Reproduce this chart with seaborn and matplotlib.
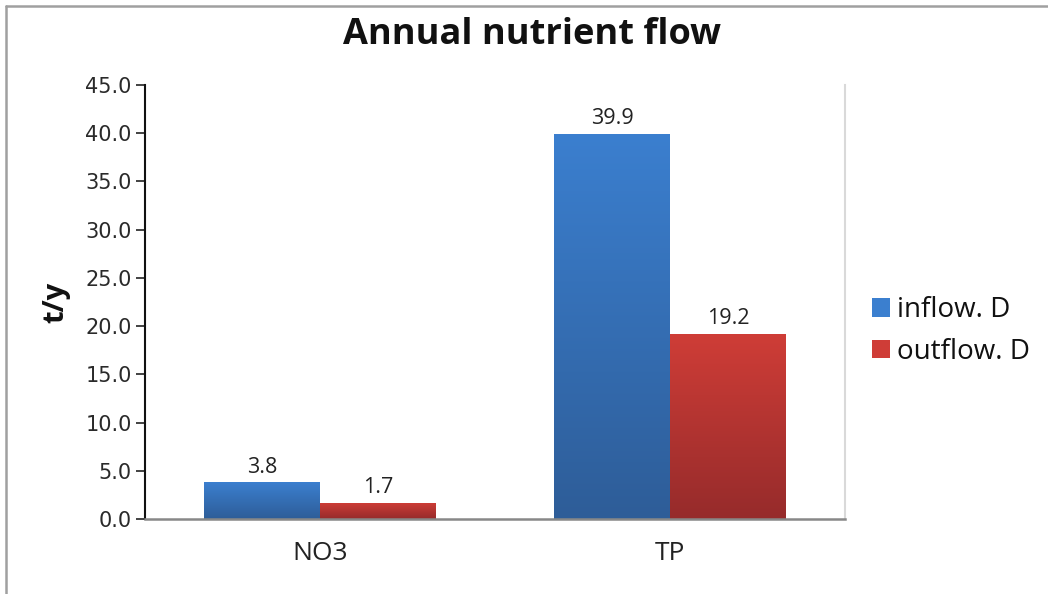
import numpy as np
import pandas as pd
import matplotlib
matplotlib.use("Agg")
import matplotlib.pyplot as plt
from matplotlib.colors import LinearSegmentedColormap
from matplotlib.lines import Line2D
from matplotlib.patches import Patch
import seaborn as sns

# Data
categories = ["NO3", "TP"]
series = ["inflow. D", "outflow. D"]
inflow = [3.8, 39.9]
outflow = [1.7, 19.2]
yticks = [0, 5, 10, 15, 20, 25, 30, 35, 40, 45]

df = pd.DataFrame({
    "nutrient": categories * 2,
    "series": [series[0]] * 2 + [series[1]] * 2,
    "value": inflow + outflow,
})

# Gradient colours (top, bottom) per series
grad = {
    series[0]: ("#3b7fcf", "#2e5d98"),
    series[1]: ("#cf3d37", "#962b2b"),
}

sns.set_theme(style="white")
plt.rcParams["font.family"] = ["Open Sans", "DejaVu Sans"]

fig = plt.figure(figsize=(10.48, 5.94), dpi=100)
ax = fig.add_axes([145 / 1048, 1 - 519 / 594, (845 - 145) / 1048, (519 - 85) / 594])

sns.barplot(data=df, x="nutrient", y="value", hue="series",
            palette=[grad[s][0] for s in series], width=0.662,
            dodge=True, ax=ax, legend=False, saturation=1, linewidth=0)

# Gradient fill clipped to each bar, with value labels
for container, s in zip(ax.containers, series):
    top, bottom = grad[s]
    cmap = LinearSegmentedColormap.from_list(s, [bottom, top])
    for bar in container:
        x0, y0 = bar.get_x(), bar.get_y()
        w, h = bar.get_width(), bar.get_height()
        img = ax.imshow(np.linspace(0, 1, 256).reshape(-1, 1), cmap=cmap,
                        origin="lower", aspect="auto",
                        extent=[x0, x0 + w, y0, y0 + h], zorder=bar.get_zorder() + 0.1)
        img.set_clip_path(bar)
        ax.text(x0 + w / 2, y0 + h + 0.5, f"{h:.1f}", ha="center", va="bottom",
                fontsize=15.5, color="#222222")

ax.set_ylim(0, 45)
ax.set_xlim(-0.5, 1.5)
ax.set_yticks(yticks)
ax.set_yticklabels([f"{v:.1f}" for v in yticks], family="DejaVu Sans", fontsize=15, color="#2a2a2a")
ax.tick_params(axis="y", which="major", direction="out", length=6.5, width=1.2, color="#222222", pad=3, left=True)
ax.tick_params(axis="x", length=0, labelsize=19, pad=16, labelcolor="#222222")
ax.set_xlabel("")
ax.set_ylabel("t/y", fontsize=21, fontweight="bold", color="#111111")
ax.yaxis.set_label_coords((70 - 145) / 700, 0.5)

ax.spines["top"].set_visible(False)
ax.spines["left"].set_color("#111111")
ax.spines["left"].set_linewidth(1.5)
ax.spines["bottom"].set_color("#888888")
ax.spines["bottom"].set_linewidth(1.8)
ax.spines["right"].set_color("#d9d9d9")
ax.spines["right"].set_linewidth(1.5)

fig.text(532 / 1048, 1 - 35 / 594, "Annual nutrient flow", ha="center", va="center",
         fontsize=26, fontweight="bold", color="#111111")

handles = [Patch(facecolor=grad[s][0], edgecolor="none") for s in series]
leg = fig.legend(handles, series, loc="center left", bbox_to_anchor=(872 / 1048, 1 - 331 / 594),
                 frameon=False, fontsize=20, handlelength=0.65, handleheight=0.65,
                 handletextpad=0.25, labelspacing=0.5, borderaxespad=0, borderpad=0)
for t in leg.get_texts():
    t.set_color("#111111")

# Outer chart frame
fig.add_artist(Line2D([6 / 1048, 6 / 1048], [0, 1 - 6 / 594], transform=fig.transFigure,
                      color="#a0a0a0", linewidth=1.8))
fig.add_artist(Line2D([6 / 1048, 1], [1 - 6 / 594, 1 - 6 / 594], transform=fig.transFigure,
                      color="#a0a0a0", linewidth=1.8))

fig.savefig("out.png", dpi=100)
